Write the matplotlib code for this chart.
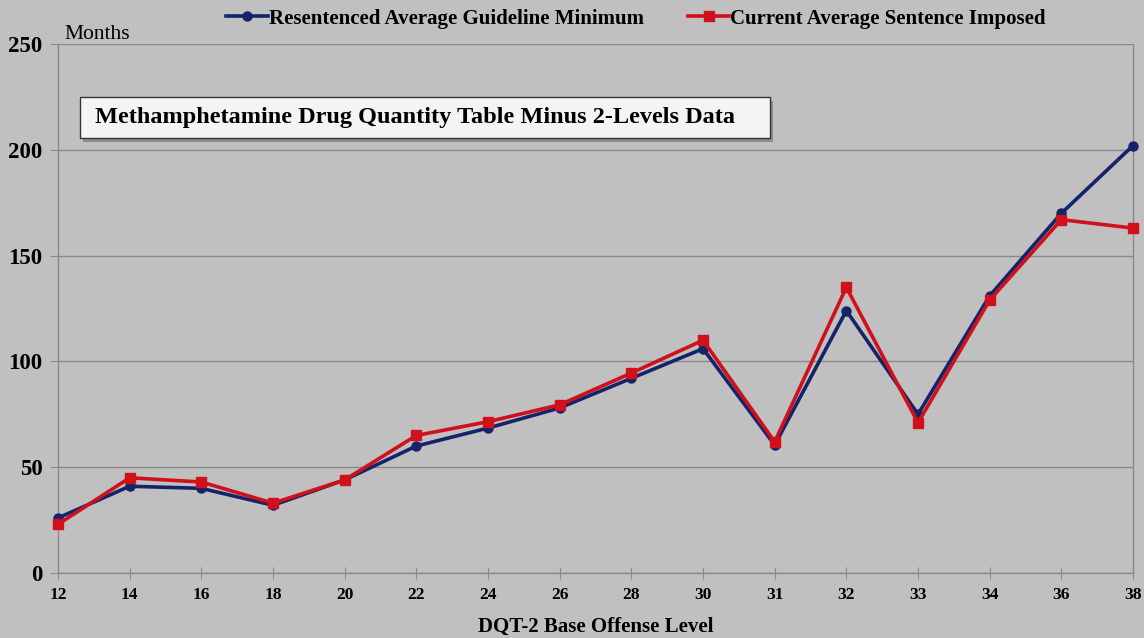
import matplotlib
matplotlib.use("Agg")
import matplotlib.pyplot as plt
from matplotlib.patches import FancyBboxPatch

# offense levels (categorical axis)
levels = ["12", "14", "16", "18", "20", "22", "24", "26", "28", "30",
          "31", "32", "33", "34", "36", "38"]
resentenced = [26, 41, 40, 32, 44, 60, 68.5, 78, 92, 106, 60.5, 124, 75, 131, 170, 202]
current = [23, 45, 43, 33, 44, 65, 71.5, 79.5, 94.5, 110, 62, 135, 71, 129, 167, 163]

bg = "#c0c0c0"
navy = "#14246b"
red = "#d0101a"
grid = "#8a8a8a"

plt.rcParams["font.family"] = ["Liberation Serif", "DejaVu Serif"]

fig = plt.figure(figsize=(11.44, 6.38), dpi=100, facecolor=bg)
ax = fig.add_axes([0.0507, 0.1019, 0.9397, 0.8291])
ax.set_facecolor(bg)

x = list(range(len(levels)))
ax.plot(x, resentenced, color=navy, lw=2.6, marker="o", ms=6.5,
        label="Resentenced Average Guideline Minimum", zorder=3, clip_on=False)
ax.plot(x, current, color=red, lw=2.6, marker="s", ms=7,
        label="Current Average Sentence Imposed", zorder=4, clip_on=False)

ax.set_xlim(0, len(levels) - 1)
ax.set_ylim(0, 250)
ax.set_yticks([0, 50, 100, 150, 200, 250])
ax.set_xticks(x)
ax.set_xticklabels(levels)
ax.yaxis.grid(True, color=grid, lw=1)
ax.set_axisbelow(True)

ax.spines["top"].set_visible(False)
for s in ["left", "right", "bottom"]:
    ax.spines[s].set_color(grid)
    ax.spines[s].set_linewidth(1)

ax.tick_params(axis="x", direction="inout", length=8, color=grid, pad=6,
               labelsize=12.5)
ax.tick_params(axis="y", direction="out", length=6, color=grid, pad=5,
               labelsize=16.5)
for lab in ax.get_xticklabels() + ax.get_yticklabels():
    lab.set_fontweight("bold")

ax.set_xlabel("DQT-2 Base Offense Level", fontsize=15, fontweight="bold",
              labelpad=10)
ax.text(0.006, 1.0, "Months", transform=ax.transAxes, fontsize=15.5,
        ha="left", va="bottom")

# title box inside the plot
box = FancyBboxPatch((0.020, 0.822), 0.642, 0.078, transform=ax.transAxes,
                     boxstyle="square,pad=0", facecolor="#f4f4f4",
                     edgecolor="#333333", lw=1, zorder=5)
shadow = FancyBboxPatch((0.023, 0.815), 0.642, 0.078, transform=ax.transAxes,
                        boxstyle="square,pad=0", facecolor="#8c8c8c",
                        edgecolor="none", zorder=4.9)
ax.add_patch(shadow)
ax.add_patch(box)
ax.text(0.034, 0.861, "Methamphetamine Drug Quantity Table Minus 2-Levels Data",
        transform=ax.transAxes, fontsize=17.5, fontweight="bold",
        ha="left", va="center", zorder=6)

fig.legend(loc="upper center", bbox_to_anchor=(0.556, 1.016), ncol=2,
           frameon=False, prop={"weight": "bold", "size": 15},
           handlelength=2.0, handletextpad=0.05, columnspacing=2.1)

fig.savefig("out.png", dpi=100, facecolor=bg)
